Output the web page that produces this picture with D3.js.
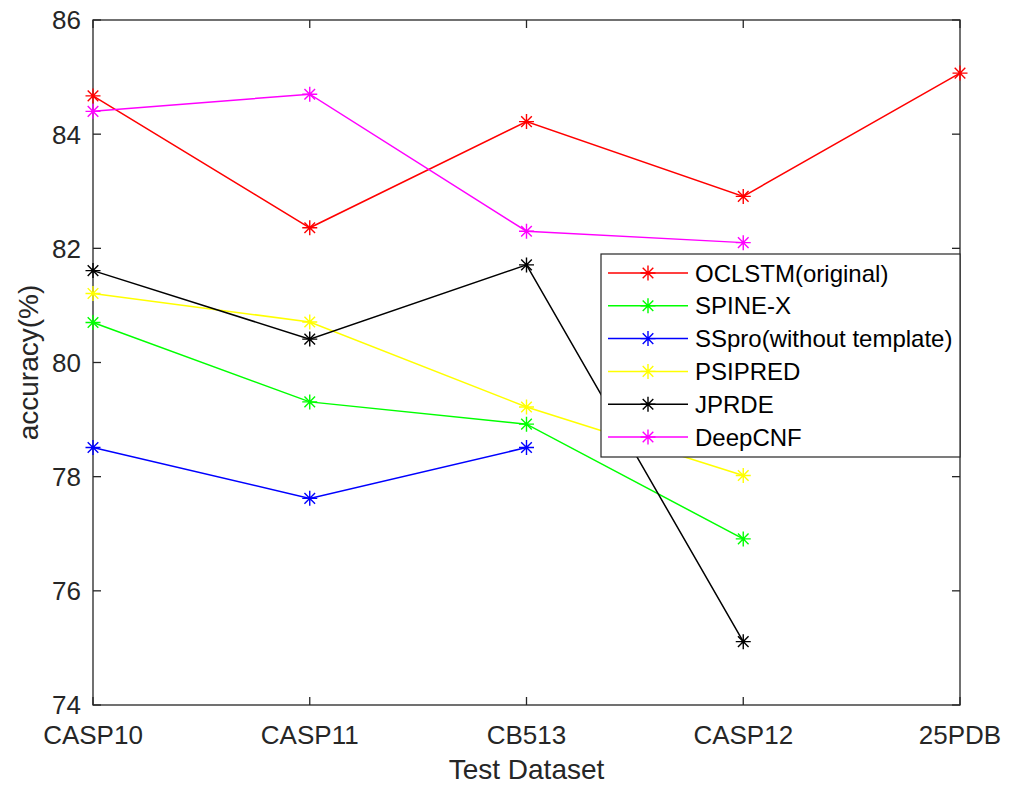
<!DOCTYPE html>
<html>
<head>
<meta charset="utf-8">
<script src="https://cdn.jsdelivr.net/npm/d3@7"></script>
<style>
html,body{margin:0;padding:0;background:#fff;}
svg{display:block;font-family:Arial,"Liberation Sans",Helvetica,sans-serif;}
</style>
</head>
<body>
<svg id="chart" width="1018" height="786"></svg>
<script>
const categories = ["CASP10","CASP11","CB513","CASP12","25PDB"];
const yTicks = [74,76,78,80,82,84,86];
const seriesNames = ["OCLSTM(original)","SPINE-X","SSpro(without template)","PSIPRED","JPRDE","DeepCNF"];
const seriesColors = ["#ff0000","#00ff00","#0000ff","#ffff00","#000000","#ff00ff"];
const oclstm  = [84.67, 82.36, 84.22, 82.91, 85.07];
const spinex  = [80.7, 79.31, 78.92, 76.91];
const sspro   = [78.51, 77.62, 78.51];
const psipred = [81.21, 80.71, 79.22, 78.02];
const jprde   = [81.61, 80.41, 81.71, 75.11];
const deepcnf = [84.4, 84.7, 82.3, 82.1];
const seriesValues = [oclstm, spinex, sspro, psipred, jprde, deepcnf];

const svg = d3.select("#chart");
const L = 93, R = 960, T = 20, B = 705;
const axisColor = "#262626";

const x = d3.scalePoint().domain(categories).range([L, R]);
const y = d3.scaleLinear().domain([74, 86]).range([B, T]);

const tickLen = 8;
const gAx = svg.append("g");

// box
gAx.append("rect").attr("x", L).attr("y", T).attr("width", R - L).attr("height", B - T)
  .attr("fill", "none").attr("stroke", axisColor).attr("stroke-width", 1.3);

// y ticks (inside, both sides)
yTicks.forEach(v => {
  gAx.append("line").attr("x1", L).attr("x2", L + tickLen).attr("y1", y(v)).attr("y2", y(v))
    .attr("stroke", axisColor).attr("stroke-width", 1.3);
  gAx.append("line").attr("x1", R).attr("x2", R - tickLen).attr("y1", y(v)).attr("y2", y(v))
    .attr("stroke", axisColor).attr("stroke-width", 1.3);
  gAx.append("text").attr("x", L - 12).attr("y", y(v)).attr("dy", "0.36em")
    .attr("text-anchor", "end").attr("font-size", 26).attr("fill", axisColor).text(v);
});

// x ticks (inside, top and bottom)
categories.forEach(c => {
  gAx.append("line").attr("x1", x(c)).attr("x2", x(c)).attr("y1", B).attr("y2", B - tickLen)
    .attr("stroke", axisColor).attr("stroke-width", 1.3);
  gAx.append("line").attr("x1", x(c)).attr("x2", x(c)).attr("y1", T).attr("y2", T + tickLen)
    .attr("stroke", axisColor).attr("stroke-width", 1.3);
  gAx.append("text").attr("x", x(c)).attr("y", 744)
    .attr("text-anchor", "middle").attr("font-size", 26).attr("fill", axisColor).text(c);
});

// axis labels
svg.append("text").attr("x", (L + R) / 2).attr("y", 779).attr("text-anchor", "middle")
  .attr("font-size", 28).attr("fill", axisColor).text("Test Dataset");
svg.append("text").attr("transform", `translate(38,${(T + B) / 2}) rotate(-90)`)
  .attr("text-anchor", "middle").attr("font-size", 28).attr("fill", axisColor).text("accuracy(%)");

// asterisk marker path
function star(cx, cy, r) {
  const d = r * Math.SQRT1_2;
  return `M${cx - r},${cy}L${cx + r},${cy}M${cx},${cy - r}L${cx},${cy + r}` +
         `M${cx - d},${cy - d}L${cx + d},${cy + d}M${cx - d},${cy + d}L${cx + d},${cy - d}`;
}

const line = d3.line().x((d, i) => x(categories[i])).y(d => y(d));
const gS = svg.append("g");
seriesValues.forEach((vals, k) => {
  gS.append("path").attr("d", line(vals)).attr("fill", "none")
    .attr("stroke", seriesColors[k]).attr("stroke-width", 1.5);
  vals.forEach((v, i) => {
    gS.append("path").attr("d", star(x(categories[i]), y(v), 7.5))
      .attr("stroke", seriesColors[k]).attr("stroke-width", 1.4).attr("fill", "none");
  });
});

// legend
const lg = svg.append("g");
lg.append("rect").attr("x", 601).attr("y", 254).attr("width", 359).attr("height", 203)
  .attr("fill", "#fff").attr("stroke", axisColor).attr("stroke-width", 1.2);
seriesNames.forEach((n, k) => {
  const yy = 273 + k * 32.8;
  lg.append("line").attr("x1", 608).attr("x2", 688).attr("y1", yy).attr("y2", yy)
    .attr("stroke", seriesColors[k]).attr("stroke-width", 1.5);
  lg.append("path").attr("d", star(648, yy, 7.5)).attr("stroke", seriesColors[k])
    .attr("stroke-width", 1.4).attr("fill", "none");
  lg.append("text").attr("x", 695).attr("y", yy).attr("dy", "0.36em")
    .attr("font-size", 24).attr("fill", "#000").text(n);
});
</script>
</body>
</html>
